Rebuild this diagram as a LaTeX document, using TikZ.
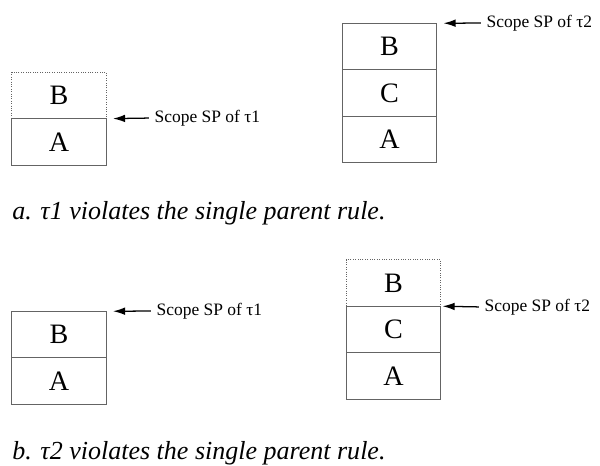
\documentclass[tikz,border=0pt]{standalone}
\usepackage{fontspec}
\setmainfont{Liberation Serif}
\usetikzlibrary{arrows.meta,positioning}
\definecolor{framegray}{RGB}{100,100,100}

\begin{document}
\begin{tikzpicture}[x=0.025cm,y=-0.025cm,
    cell/.style={draw=framegray,line width=0.7pt,minimum width=2.35cm,
      minimum height=1.16cm,inner sep=0pt,outer sep=0pt,
      font=\fontsize{20}{24}\selectfont},
    ghost/.style={cell,densely dotted},
    scopelbl/.style={anchor=west,inner sep=1pt,font=\fontsize{12.4}{14}\selectfont},
    ptr/.style={-{Latex[length=3mm,width=1.9mm]},line width=0.9pt,
      shorten >=5pt,shorten <=3pt},
    caption/.style={anchor=west,inner sep=0pt,font=\itshape\fontsize{18.5}{22}\selectfont}]
  \useasboundingbox (0,0) rectangle (600,466);
  % a. single parent rule broken by t1
  \node[ghost] (B1) at (59,95.5) {B};
  \node[cell,below=0pt of B1] (A1) {A};
  \node[scopelbl] (s1) at (153,118) {Scope SP of τ1};
  \draw[ptr] (s1.west) -- (A1.north east);
  \node[cell] (B2) at (389.5,46.5) {B};
  \node[cell,below=0pt of B2] (C2) {C};
  \node[cell,below=0pt of C2] (A2) {A};
  \node[scopelbl] (s2) at (485,23) {Scope SP of τ2};
  \draw[ptr] (s2.west) -- (B2.north east);
  \node[caption] (capa) at (12,213) {a. τ1 violates the single parent rule.};
  % b. single parent rule broken by t2
  \node[cell] (B3) at (59,334.5) {B};
  \node[cell,below=0pt of B3] (A3) {A};
  \node[scopelbl] (s3) at (155,311) {Scope SP of τ1};
  \draw[ptr] (s3.west) -- (B3.north east);
  \node[ghost] (B4) at (393.5,283) {B};
  \node[cell,below=0pt of B4] (C4) {C};
  \node[cell,below=0pt of C4] (A4) {A};
  \node[scopelbl] (s4) at (483,307) {Scope SP of τ2};
  \draw[ptr,shorten >=1.5pt] (s4.west) -- (C4.north east);
  \node[caption] (capb) at (12,453) {b. τ2 violates the single parent rule.};
\end{tikzpicture}
\end{document}
